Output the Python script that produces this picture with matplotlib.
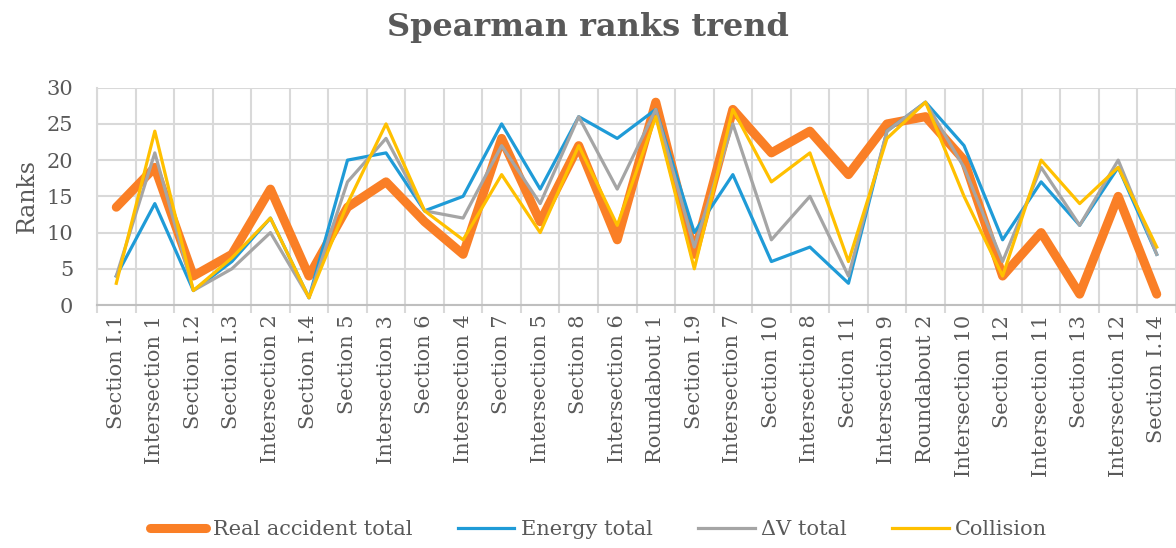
import matplotlib
matplotlib.use("Agg")
import matplotlib.pyplot as plt
import numpy as np

categories = ["Section I.1", "Intersection 1", "Section I.2", "Section I.3", "Intersection 2",
              "Section I.4", "Section 5", "Intersection 3", "Section 6", "Intersection 4",
              "Section 7", "Intersection 5", "Section 8", "Intersection 6", "Roundabout 1",
              "Section I.9", "Intersection 7", "Section 10", "Intersection 8", "Section 11",
              "Intersection 9", "Roundabout 2", "Intersection 10", "Section 12", "Intersection 11",
              "Section 13", "Intersection 12", "Section I.14"]

real_accident = [13.5, 19, 4, 7, 16, 4, 13.5, 17, 11.5, 7, 23, 11.5, 22, 9, 28, 7, 27, 21, 24, 18,
                 25, 26, 20, 4, 10, 1.5, 15, 1.5]
energy_total = [4, 14, 2, 6, 12, 1, 20, 21, 13, 15, 25, 16, 26, 23, 27, 10, 18, 6, 8, 3,
                24, 28, 22, 9, 17, 11, 19, 7]
dv_total = [4, 21, 2, 5, 10, 1, 17, 23, 13, 12, 22, 14, 26, 16, 27, 8, 25, 9, 15, 4,
            24, 28, 19, 6, 19, 11, 20, 7]
collision = [3, 24, 2, 6.5, 12, 1, 14, 25, 13, 9, 18, 10, 22, 11, 26, 5, 27, 17, 21, 6,
             23, 28, 15, 4, 20, 14, 19, 8]

series_names = ["Real accident total", "Energy total", "\u0394V total", "Collision"]
yticks = [0, 5, 10, 15, 20, 25, 30]

FONT = "DejaVu Serif"
TXT = "#595959"
GRID = "#D9D9D9"

fig = plt.figure(figsize=(11.76, 5.48), dpi=100)
ax = fig.add_axes([0.0825, 0.4434, 0.9175, 0.3966])

x = np.arange(len(categories))
ax.plot(x, real_accident, color="#FA7F26", lw=6.5, solid_capstyle="round",
        solid_joinstyle="round", label=series_names[0], zorder=3)
ax.plot(x, energy_total, color="#1F9BD7", lw=2.3, label=series_names[1], zorder=4)
ax.plot(x, dv_total, color="#A5A5A5", lw=2.3, label=series_names[2], zorder=5)
ax.plot(x, collision, color="#FFC000", lw=2.3, label=series_names[3], zorder=6)

ax.set_xlim(-0.5, len(categories) - 0.5)
ax.set_ylim(0, 30)
ax.set_yticks(yticks)
ax.set_xticks(x)
ax.set_xticklabels(categories, rotation=90, fontsize=15, family=FONT, color=TXT)
ax.set_xticks(np.arange(len(categories) + 1) - 0.5, minor=True)
for lab in ax.get_yticklabels():
    lab.set_fontsize(15)
    lab.set_family(FONT)
    lab.set_color(TXT)

ax.tick_params(axis="x", which="major", length=0, pad=7)
ax.tick_params(axis="x", which="minor", length=6, color=GRID, width=1.5)
ax.tick_params(axis="y", length=0, pad=17)
ax.grid(axis="y", color=GRID, lw=1.5)
ax.grid(axis="x", which="minor", color=GRID, lw=1.5)
ax.set_axisbelow(True)
for s in ["top", "right"]:
    ax.spines[s].set_visible(False)
ax.spines["left"].set_color(GRID)
ax.spines["left"].set_linewidth(1.5)
ax.spines["bottom"].set_color("#BFBFBF")
ax.spines["bottom"].set_linewidth(1.5)

ax.set_ylabel("Ranks", fontsize=17, family=FONT, color=TXT, labelpad=6)
fig.text(0.5, 0.950, "Spearman ranks trend", ha="center", va="center",
         fontsize=23, fontweight="bold", family=FONT, color=TXT)

fig.legend(loc="center", bbox_to_anchor=(0.509, 0.033), ncol=4, frameon=False,
           prop={"family": FONT, "size": 15}, labelcolor=TXT, handlelength=2.7,
           columnspacing=2.2, handletextpad=0.3)

fig.savefig("out.png", dpi=100)
